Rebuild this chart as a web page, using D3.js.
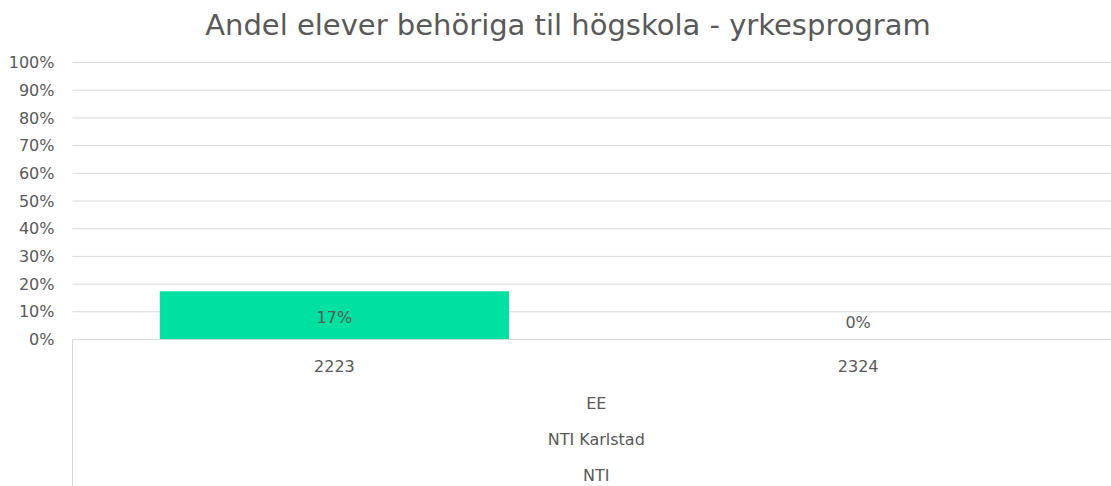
<!DOCTYPE html>
<html>
<head>
  <meta charset="utf-8"/>
  <title>Andel elever</title>
  <style type="text/css">
    body {
      margin:0;
      padding:0;
      background-color:white;
      font-family: "DejaVu Sans", sans-serif;
    }
    text { fill:#595959; }
  </style>
  <script src="https://cdn.jsdelivr.net/npm/d3@7/dist/d3.min.js" charset="utf-8"></script>
</head>
<body>
<script type="text/javascript">

  var w = 1111, h = 486;

  // DATA
  var categories = ["2223", "2324"],
      values = [0.174, 0];
  var groupLabels = ["EE", "NTI Karlstad", "NTI"];
  var yTicks = [0, 0.1, 0.2, 0.3, 0.4, 0.5, 0.6, 0.7, 0.8, 0.9, 1];

  var barColor = "#00E0A0",
      gridColor = "#d9d9d9";

  var svg = d3.select("body").append("svg")
              .attr("width", w)
              .attr("height", h);

  // plot area runs past the right edge like the original
  var x = d3.scaleBand().domain(categories).range([72.5, 1120]).padding(0);
  var y = d3.scaleLinear().domain([0, 1]).range([339.5, 62.5]);

  // title
  svg.append("text")
     .attr("x", 568)
     .attr("y", 35)
     .attr("text-anchor", "middle")
     .style("font-size", "29px")
     .text("Andel elever behöriga til högskola - yrkesprogram");

  // gridlines
  svg.append("g").selectAll("line")
     .data(yTicks.slice(1))
     .join("line")
     .attr("x1", 72.5).attr("x2", w)
     .attr("y1", d => y(d)).attr("y2", d => y(d))
     .attr("stroke", gridColor).attr("stroke-width", 1);

  // y axis labels
  var yAxis = d3.axisLeft(y).tickValues(yTicks).tickFormat(d3.format(".0%")).tickSize(0).tickPadding(18);
  var yg = svg.append("g").attr("transform", "translate(72.5,0)").call(yAxis);
  yg.select(".domain").remove();
  yg.selectAll("text").style("font-size", "16px").style("font-family", "DejaVu Sans").attr("fill", "#595959");

  // bars
  var barW = x.bandwidth() / 1.5;
  svg.append("g").selectAll("rect")
     .data(values)
     .join("rect")
     .attr("x", (d, i) => x(categories[i]) + (x.bandwidth() - barW) / 2)
     .attr("y", d => y(d))
     .attr("width", barW)
     .attr("height", d => y(0) - y(d))
     .attr("fill", barColor);

  // data labels
  svg.append("g").selectAll("text")
     .data(values)
     .join("text")
     .attr("x", (d, i) => x(categories[i]) + x.bandwidth() / 2)
     .attr("y", d => Math.min(y(d / 2) + 2, y(0) - 17))
     .attr("dy", "0.35em")
     .attr("text-anchor", "middle")
     .style("font-size", "16px")
     .text(d => d3.format(".0%")(d));

  // category axis frame
  svg.append("line")
     .attr("x1", 72.5).attr("x2", w)
     .attr("y1", y(0)).attr("y2", y(0))
     .attr("stroke", gridColor);
  svg.append("line")
     .attr("x1", 72.5).attr("x2", 72.5)
     .attr("y1", y(0)).attr("y2", h)
     .attr("stroke", gridColor);

  // category labels
  svg.append("g").selectAll("text")
     .data(categories)
     .join("text")
     .attr("x", d => x(d) + x.bandwidth() / 2)
     .attr("y", 372)
     .attr("text-anchor", "middle")
     .style("font-size", "16px")
     .text(d => d);

  // group labels
  var midX = (x.range()[0] + x.range()[1]) / 2;
  svg.append("g").selectAll("text")
     .data(groupLabels)
     .join("text")
     .attr("x", midX)
     .attr("y", (d, i) => 409 + i * 36)
     .attr("text-anchor", "middle")
     .style("font-size", "16px")
     .text(d => d);

</script>
</body>
</html>
